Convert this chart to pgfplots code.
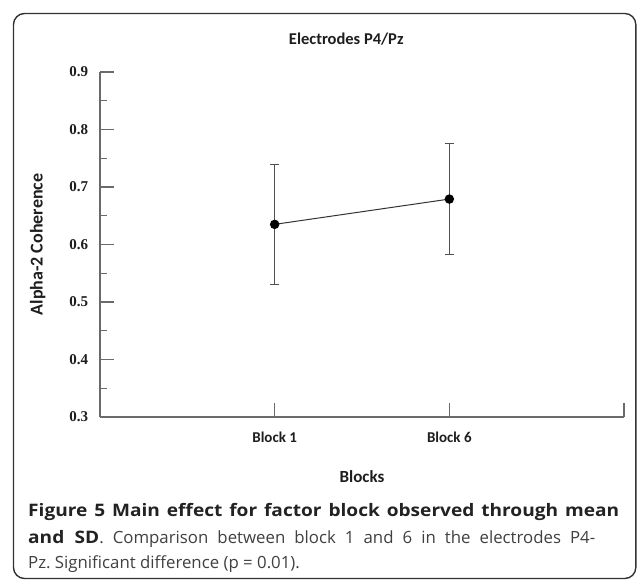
\documentclass[border=0pt]{standalone}
\usepackage{pgfplots}
\pgfplotsset{compat=1.18}
\usepackage{fontspec}
\setmainfont{Open Sans}
\newfontfamily\capfont[BoldFeatures={FakeStretch=1.11}]{Open Sans}
\newfontfamily\chartsans{Carlito}
\newfontfamily\chartserif{Liberation Serif}
\definecolor{axisgray}{HTML}{6A6A6A}
\definecolor{bargray}{HTML}{505050}
\definecolor{captext}{HTML}{404040}
\definecolor{capbold}{HTML}{222222}
\definecolor{framec}{HTML}{333333}
\definecolor{charttext}{HTML}{1E1E1E}
\frenchspacing
\begin{document}
\begin{tikzpicture}[x=1bp,y=1bp]
\useasboundingbox (0,0) rectangle (637,583);
\fill[white] (0,0) rectangle (637,583);
\draw[framec, line width=1.4bp, rounded corners=11bp] (13.5,4.5) rectangle (635.8,569.5);
\begin{axis}[
  at={(100bp,166bp)}, anchor=south west,
  scale only axis, width=524bp, height=345bp,
  xmin=0, xmax=3, ymin=0.3, ymax=0.9,
  axis x line*=bottom, axis y line*=left,
  axis line style={axisgray, line width=1.1bp, -},
  every tick/.style={axisgray, line width=1.1bp},
  tick align=inside,
  major tick length=14bp, minor tick length=7bp,
  xtick={0,1,2,3}, xticklabels={,Block 1,Block 6,},
  ytick={0.3,0.4,0.5,0.6,0.7,0.8,0.9},
  yticklabels={0.3,0.4,0.5,0.6,0.7,0.8,0.9},
  minor ytick={0.35,0.45,0.55,0.65,0.75,0.85},
  xticklabel style={font=\chartsans\bfseries\fontsize{15bp}{18bp}\selectfont, anchor=base, yshift=-26bp, text=charttext},
  yticklabel style={font=\chartserif\bfseries\fontsize{15bp}{18bp}\selectfont, anchor=east, inner sep=0pt, xshift=-11.7bp, text=charttext},
  title={Electrodes P4/Pz},
  title style={font=\chartsans\bfseries\fontsize{16.5bp}{20bp}\selectfont, text=charttext, at={(axis description cs:0.47,1.0637)}, anchor=base},
  xlabel={Blocks},
  xlabel style={font=\chartsans\bfseries\fontsize{17bp}{20bp}\selectfont, text=charttext, at={(axis description cs:0.5,-0.189)}, anchor=base},
  ylabel={Alpha-2 Coherence},
  ylabel style={font=\chartsans\bfseries\fontsize{18bp}{20bp}\selectfont, text=charttext, at={(axis description cs:-0.1097,0.5)}, anchor=base},
  clip=false,
]
\addplot[draw=black!80, line width=1bp, mark=*, mark options={fill=black, draw=black, solid}, mark size=4.2bp,
  error bars/.cd, y dir=both, y explicit,
  error bar style={bargray, line width=1.1bp},
  error mark options={rotate=90, bargray, mark size=4.8bp, line width=1.1bp}]
 coordinates {(1,0.635) +- (0,0.104) (2,0.679) +- (0,0.096)};
\end{axis}
\node[anchor=base west, inner sep=0pt, text=capbold] at (28,66.3)
 {\capfont\bfseries\fontsize{17.2bp}{20bp}\selectfont\hbox to 591bp{Figure 5 Main effect for factor block observed through mean}};
\node[anchor=base west, inner sep=0pt, text=captext] at (28,39.7)
 {\capfont\fontsize{16.8bp}{20bp}\selectfont\hbox to 567bp{{\bfseries\fontsize{17.2bp}{20bp}\selectfont\color{capbold}and SD}. Comparison between block 1 and 6 in the electrodes P4-}};
\node[anchor=base west, inner sep=0pt, text=captext] at (28,14.7)
 {\capfont\fontsize{16.8bp}{20bp}\selectfont Pz. Significant difference (p = 0.01).};
\end{tikzpicture}
\end{document}
